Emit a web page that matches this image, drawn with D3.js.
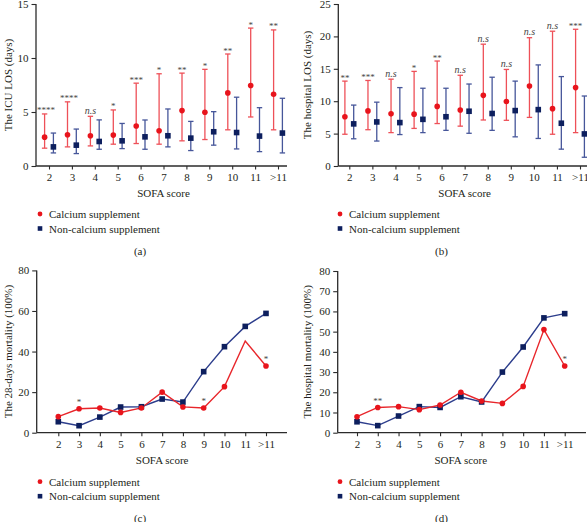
<!DOCTYPE html>
<html><head><meta charset="utf-8">
<script src="https://cdn.jsdelivr.net/npm/d3@7"></script>
<style>
body{margin:0;background:#fff;}
svg{display:block;font-family:"Liberation Serif","DejaVu Serif",serif;}
</style></head>
<body><svg id="c" width="587" height="522"></svg>
<script>
const categories = ["2","3","4","5","6","7","8","9","10","11",">11"];
// (a) ICU LOS (days): median and whiskers
const icuCalMedian = [2.67,2.89,2.8,2.86,3.7,3.26,5.13,4.97,6.77,7.46,6.65];
const icuCalLow    = [1.65,1.77,1.86,2.02,2.08,2.02,2.33,2.45,3.35,4.54,3.35];
const icuCalHigh   = [4.82,5.94,4.6,5.19,7.67,8.54,8.6,8.95,10.37,12.77,12.6];
const icuNonMedian = [1.77,1.93,2.27,2.33,2.7,2.8,2.58,3.17,3.1,2.77,3.05];
const icuNonLow    = [1.21,1.15,1.55,1.61,1.55,1.77,1.43,1.93,1.58,1.33,1.21];
const icuNonHigh   = [3.05,3.42,4.27,3.94,4.26,5.28,4.13,5.03,6.37,5.4,6.27];
const icuSig       = ["****","****","n.s","*","***","*","**","*","**","*","**"];
// (b) hospital LOS (days)
const hosCalMedian = [7.6,8.5,8.05,8.0,9.2,8.65,10.9,9.95,12.35,8.85,12.1];
const hosCalLow    = [4.9,5.6,5.15,5.8,6.55,6.15,7.1,7.05,7.5,4.9,5.15];
const hosCalHigh   = [13.1,13.2,13.4,14.6,16.2,14.0,18.8,14.9,19.8,20.8,21.1];
const hosNonMedian = [6.5,6.8,6.7,7.2,7.6,8.45,8.1,8.55,8.7,6.6,4.95];
const hosNonLow    = [4.2,3.85,4.85,5.15,5.5,5.05,5.5,4.5,4.25,2.6,1.35];
const hosNonHigh   = [9.4,9.85,12.1,12.0,12.0,12.65,13.7,13.1,15.6,13.8,10.8];
const hosSig       = ["**","***","n.s","*","**","n.s","n.s","n.s","n.s","n.s","***"];
// (c) 28-days mortality (%)
const m28Cal = [7.9,11.8,12.2,10.0,12.2,20.0,12.7,12.2,22.7,45.2,32.9];
const m28Non = [5.4,3.45,7.7,12.65,12.8,16.6,15.1,30.1,42.4,52.4,58.8];
const m28Sig = ["","*","","","","","","*","","","*"];
const m28CalNoMarker = ["11"];
// (d) hospital mortality (%)
const hmCal = [7.9,12.5,12.9,11.4,13.7,20.0,15.7,14.5,22.9,51.0,33.0];
const hmNon = [5.4,3.5,8.25,12.9,12.5,17.8,15.2,30.0,42.4,56.8,58.9];
const hmSig = ["","**","","","","","","","","","*"];

const legendLabels = ["Calcium supplement","Non-calcium supplement"];
const panelLetters = ["(a)","(b)","(c)","(d)"];

const RED="#e8141c", RED_BAR="#ee5058", NAVY="#0d1f5e", NAVY_BAR="#46569a";
const RED_LINE="#e8262b", NAVY_LINE="#2c3d8c", AX="#2b2b2b", TXT="#231f20";

const svg=d3.select("#c");

function axes(g, x, y, axisX0, axisX1, yTicks, ylabel, ylx){
  const y0=y.range()[0], y1=y.range()[1];
  const ya=d3.axisLeft(y).tickValues(yTicks).tickSize(4.5).tickPadding(3);
  const gy=g.append("g").attr("transform",`translate(${axisX0},0)`).call(ya);
  gy.select(".domain").remove();
  g.append("line").attr("x1",axisX0).attr("x2",axisX0).attr("y1",y1).attr("y2",y0).attr("stroke",AX).attr("stroke-width",1.3);
  g.append("line").attr("x1",axisX0).attr("x2",axisX1).attr("y1",y0).attr("y2",y0).attr("stroke",AX).attr("stroke-width",1.3);
  const xa=d3.axisBottom(x).tickSize(3.5).tickPadding(4);
  const gx=g.append("g").attr("transform",`translate(0,${y0})`).call(xa);
  gx.select(".domain").remove();
  [gx,gy].forEach(a=>{
    a.selectAll("text").attr("font-size",11).attr("fill",TXT).attr("font-family","Liberation Serif");
    a.selectAll("line").attr("stroke",AX).attr("stroke-width",1.1);
  });
  const xm=(x.range()[0]+x.range()[1])/2;
  g.append("text").attr("x",xm).attr("y",y0+31).attr("text-anchor","middle")
   .attr("font-size",11).attr("fill",TXT).text("SOFA score");
  g.append("text").attr("transform",`translate(${ylx},${(y0+y1)/2}) rotate(-90)`)
   .attr("text-anchor","middle").attr("dominant-baseline","central")
   .attr("font-size",11).attr("fill",TXT).text(ylabel);
}

function legend(g, lx, ly, letterX, letterY, letter){
  g.append("circle").attr("cx",lx).attr("cy",ly).attr("r",2.4).attr("fill",RED);
  g.append("rect").attr("x",lx-2.3).attr("y",ly+14.5-2.3).attr("width",4.6).attr("height",4.6).attr("fill",NAVY);
  g.append("text").attr("x",lx+9).attr("y",ly).attr("dominant-baseline","central").attr("font-size",11).attr("fill",TXT).text(legendLabels[0]);
  g.append("text").attr("x",lx+9).attr("y",ly+14.5).attr("dominant-baseline","central").attr("font-size",11).attr("fill",TXT).text(legendLabels[1]);
  g.append("text").attr("x",letterX).attr("y",letterY).attr("text-anchor","middle").attr("dominant-baseline","central").attr("font-size",11).attr("fill",TXT).text(letter);
}

function errPanel(cfg){
  const g=svg.append("g");
  const x=d3.scalePoint().domain(categories).range(cfg.xr);
  const y=d3.scaleLinear().domain([0,cfg.ymax]).range(cfg.yr);
  axes(g,x,y,cfg.ax0,cfg.ax1,d3.range(0,cfg.ymax+1,5),cfg.ylabel,cfg.ylx);
  const off=4.4, cw=2.7;
  const groups=[
    {m:cfg.calM,l:cfg.calL,h:cfg.calH,dx:-off,bar:RED_BAR,col:RED,shape:"c"},
    {m:cfg.nonM,l:cfg.nonL,h:cfg.nonH,dx:off,bar:NAVY_BAR,col:NAVY,shape:"s"}
  ];
  groups.forEach(s=>{
    categories.forEach((c,i)=>{
      const cx=x(c)+s.dx;
      g.append("line").attr("x1",cx).attr("x2",cx).attr("y1",y(s.l[i])).attr("y2",y(s.h[i])).attr("stroke",s.bar).attr("stroke-width",1.3);
      [s.l[i],s.h[i]].forEach(v=>g.append("line").attr("x1",cx-cw).attr("x2",cx+cw).attr("y1",y(v)).attr("y2",y(v)).attr("stroke",s.bar).attr("stroke-width",1.3));
      if(s.shape==="c") g.append("circle").attr("cx",cx).attr("cy",y(s.m[i])).attr("r",2.8).attr("fill",s.col);
      else g.append("rect").attr("x",cx-2.8).attr("y",y(s.m[i])-2.8).attr("width",5.6).attr("height",5.6).attr("fill",s.col);
    });
  });
  categories.forEach((c,i)=>{
    const lab=cfg.sig[i]; if(!lab) return;
    const ns=lab==="n.s";
    g.append("text").attr("x",x(c)-off+(lab.length>3&&!ns?1.5:0)).attr("y",y(cfg.calH[i])+(ns?-2.5:-0.5))
     .attr("text-anchor","middle").attr("font-size",ns?10:9).attr("font-style",ns?"italic":"normal")
     .attr("fill","#444").text(lab);
  });
  legend(g,cfg.legX,214,cfg.letX,250.5,cfg.letter);
}

function linePanel(cfg){
  const g=svg.append("g");
  const x=d3.scalePoint().domain(categories).range(cfg.xr);
  const y=d3.scaleLinear().domain([0,80]).range(cfg.yr);
  axes(g,x,y,cfg.ax0,cfg.ax1,d3.range(0,81,cfg.step),cfg.ylabel,cfg.ylx);
  const line=d3.line().x((d,i)=>x(categories[i])).y(d=>y(d));
  g.append("path").datum(cfg.non).attr("d",line).attr("fill","none").attr("stroke",NAVY_LINE).attr("stroke-width",1.4);
  g.append("path").datum(cfg.cal).attr("d",line).attr("fill","none").attr("stroke",RED_LINE).attr("stroke-width",1.4);
  cfg.non.forEach((v,i)=>g.append("rect").attr("x",x(categories[i])-2.8).attr("y",y(v)-2.8).attr("width",5.6).attr("height",5.6).attr("fill",NAVY));
  cfg.cal.forEach((v,i)=>{
    if(cfg.noMarker.includes(categories[i])) return;
    g.append("circle").attr("cx",x(categories[i])).attr("cy",y(v)).attr("r",2.8).attr("fill",RED);
  });
  categories.forEach((c,i)=>{
    const lab=cfg.sig[i]; if(!lab) return;
    g.append("text").attr("x",x(c)).attr("y",y(cfg.cal[i])-3.5).attr("text-anchor","middle")
     .attr("font-size",9).attr("fill","#444").text(lab);
  });
  legend(g,cfg.legX,481.7,cfg.letX,518,cfg.letter);
}

errPanel({xr:[49,278],yr:[166,4],ax0:36,ax1:287,ymax:15,ylabel:"The ICU LOS (days)",ylx:7.5,
  calM:icuCalMedian,calL:icuCalLow,calH:icuCalHigh,nonM:icuNonMedian,nonL:icuNonLow,nonH:icuNonHigh,
  sig:icuSig,legX:40,letX:140,letter:panelLetters[0]});
errPanel({xr:[349.3,580],yr:[166,4],ax0:338.3,ax1:587,ymax:25,ylabel:"The hospital LOS (days)",ylx:306.5,
  calM:hosCalMedian,calL:hosCalLow,calH:hosCalHigh,nonM:hosNonMedian,nonL:hosNonLow,nonH:hosNonHigh,
  sig:hosSig,legX:340,letX:441.5,letter:panelLetters[1]});
linePanel({xr:[58.3,266],yr:[432.7,270.4],ax0:36.7,ax1:287,step:20,ylabel:"The 28-days mortality (100%)",ylx:7.5,
  cal:m28Cal,non:m28Non,sig:m28Sig,noMarker:m28CalNoMarker,legX:40,letX:140,letter:panelLetters[2]});
linePanel({xr:[357,564.7],yr:[432.7,271],ax0:337.7,ax1:586,step:10,ylabel:"The hospital mortality (100%)",ylx:306.5,
  cal:hmCal,non:hmNon,sig:hmSig,noMarker:[],legX:340,letX:441.5,letter:panelLetters[3]});
</script></body></html>
